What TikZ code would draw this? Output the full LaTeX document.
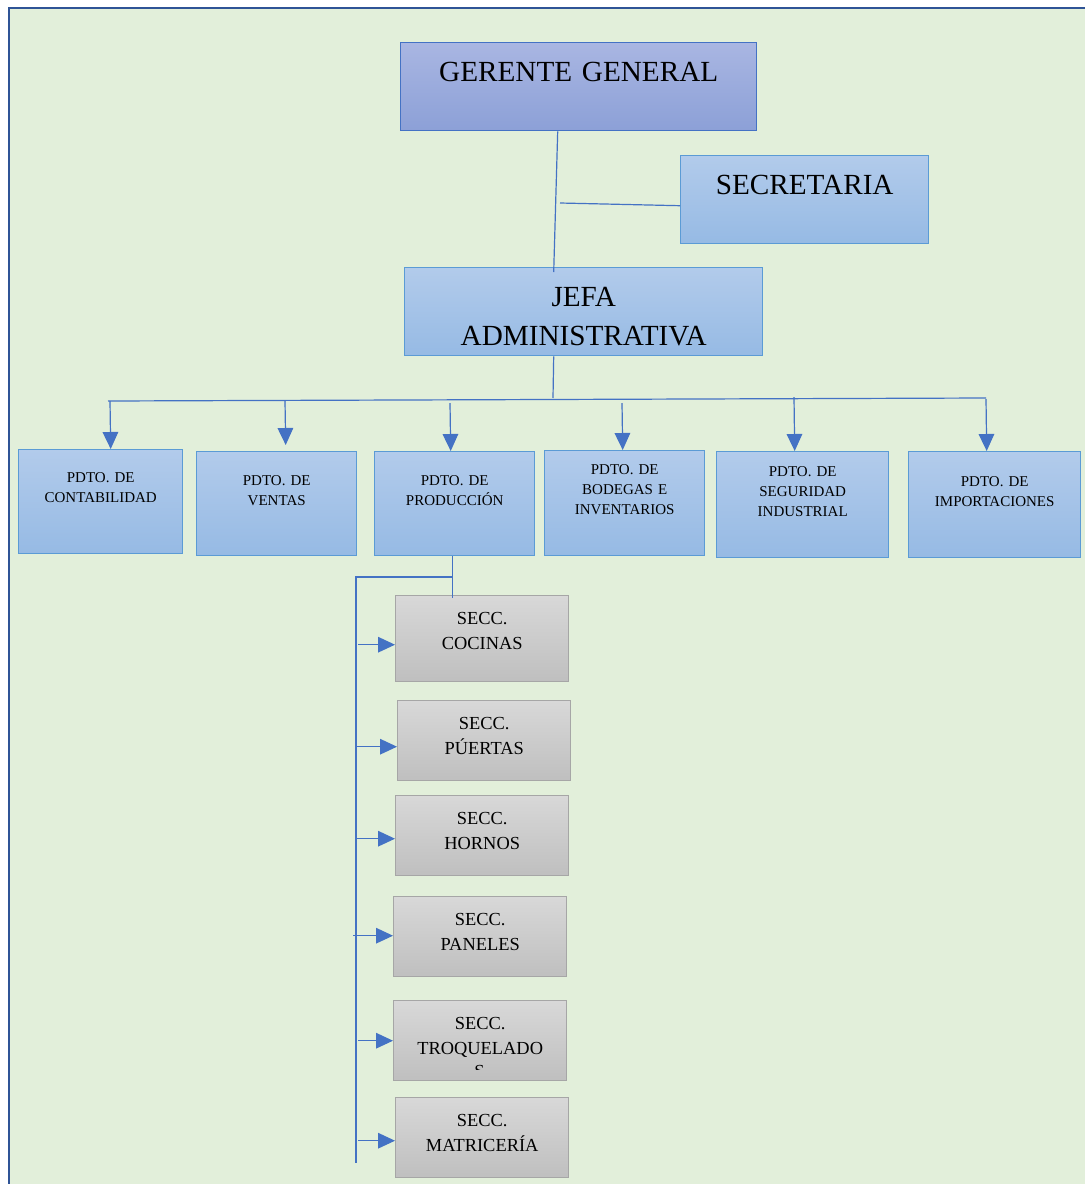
\documentclass[tikz,border=0pt]{standalone}
\usepackage{fontspec}
\setmainfont{Liberation Serif}
\usetikzlibrary{arrows.meta}

\definecolor{fondo}{RGB}{226,239,218}
\definecolor{marco}{RGB}{47,84,150}
\definecolor{linea}{RGB}{68,114,196}
\definecolor{gerTop}{RGB}{169,182,226}
\definecolor{gerBot}{RGB}{140,160,215}
\definecolor{azTop}{RGB}{178,203,235}
\definecolor{azBot}{RGB}{150,186,228}
\definecolor{azBorde}{RGB}{91,155,213}
\definecolor{grisTop}{RGB}{216,216,216}
\definecolor{grisBot}{RGB}{191,191,191}
\definecolor{grisBorde}{RGB}{166,166,166}

\tikzset{
  caja/.style={line width=0.7pt, inner xsep=0pt, inner ysep=0pt, align=center, anchor=north west},
  grande/.style={caja, font=\fontsize{14.6}{19.5}\selectfont, text height=19.4pt, text depth=24.6pt},
  dpto/.style={caja, draw=azBorde, top color=azTop, bottom color=azBot, font=\fontsize{7.5}{10}\selectfont},
  secc/.style={caja, draw=grisBorde, top color=grisTop, bottom color=grisBot, text width=86.5pt,
    font=\fontsize{9.2}{12.5}\selectfont, text height=14.2pt, text depth=25.8pt},
  conn/.style={draw=linea, line width=0.6pt},
  arr/.style={conn, -{Triangle[length=8.5pt,width=7.8pt]}, fill=linea},
}

\begin{document}
\begin{tikzpicture}[x=0.5pt, y=-0.5pt]
  \useasboundingbox (0,0) rectangle (1085,1184);
  % fondo
  \fill[fondo] (9,9) rectangle (1085,1184);
  \draw[marco, line width=1.2pt] (9,1184) -- (9,8) -- (1085,8);

  % direccion
  \node[grande, draw=linea, top color=gerTop, bottom color=gerBot, text width=178pt] (gerente) at (400,42) {GERENTE GENERAL};
  \node[grande, draw=azBorde, top color=azTop, bottom color=azBot, text width=124pt] (secretaria) at (680,155) {SECRETARIA};
  \node[grande, draw=azBorde, top color=azTop, bottom color=azBot, text width=179pt] (jefa) at (404,267) {JEFA\\ADMINISTRATIVA};
  \coordinate (tapSec) at (560,203);
  \coordinate (busMid) at (553,398);
  \draw[conn] ([xshift=-10.5pt]gerente.south) -- ([xshift=-15pt,yshift=-2.5pt]jefa.north);
  \draw[conn] (tapSec) -- ([yshift=-3pt]secretaria.west);
  \draw[conn] ([xshift=-15pt]jefa.south) -- (busMid);

  % departamentos
  \node[dpto, text width=82pt, text height=16.6pt, text depth=35.4pt] (cont) at (18,449) {PDTO. DE\\CONTABILIDAD};
  \node[dpto, text width=80pt, text height=17pt, text depth=35pt] (ventas) at (196,451) {PDTO. DE\\VENTAS};
  \node[dpto, text width=80pt, text height=17pt, text depth=35pt] (prod) at (374,451) {PDTO. DE\\PRODUCCIÓN};
  \node[dpto, text width=80pt, text height=12pt, text depth=40.5pt] (bodegas) at (544,450) {PDTO. DE\\BODEGAS E\\INVENTARIOS};
  \node[dpto, text width=86pt, text height=12.5pt, text depth=40.5pt] (seguridad) at (716,451) {PDTO. DE\\SEGURIDAD\\INDUSTRIAL};
  \node[dpto, text width=86pt, text height=17.5pt, text depth=35.5pt] (import) at (908,451) {PDTO. DE\\IMPORTACIONES};

  \coordinate (busL) at (108,401);
  \coordinate (busR) at (986,398);
  \coordinate (bCont) at (110,401);
  \coordinate (bVentas) at (285,401);
  \coordinate (bProd) at (450,403);
  \coordinate (bBodegas) at (622,403);
  \coordinate (bSeguridad) at (794,397);
  \coordinate (bImport) at (986,399);
  \draw[conn] (busL) -- (busR);
  \path
  (bCont) edge[arr] ([xshift=5pt]cont.north)
  (bVentas) edge[arr] ([xshift=4.5pt,yshift=3pt]ventas.north)
  (bProd) edge[arr] ([xshift=-2pt]prod.north)
  (bBodegas) edge[arr] ([xshift=-1pt]bodegas.north)
  (bSeguridad) edge[arr] ([xshift=-4pt]seguridad.north)
  (bImport) edge[arr] ([xshift=-4pt]import.north);

  % secciones de produccion
  \node[secc, text depth=28.8pt] (cocinas) at (395,595) {SECC.\\COCINAS};
  \node[secc] (puertas) at (397,700) {SECC.\\PÚERTAS};
  \node[secc] (hornos) at (395,795) {SECC.\\HORNOS};
  \node[secc] (paneles) at (393,896) {SECC.\\PANELES};
  \node[secc] (troq) at (393,1000) {SECC.\\TROQUELADO};
  \begin{scope}
    \clip (393,1000) rectangle (567,1069.5);
    \node[font=\fontsize{9.2}{12.5}\selectfont, inner sep=0pt, anchor=base] (troqS) at (479.5,1077.7) {S};
  \end{scope}
  \node[secc] (matric) at (395,1097) {SECC.\\MATRICERÍA};

  \coordinate (codo) at (452,577);
  \coordinate (espTop) at (356,577);
  \coordinate (espBot) at (356,1163);
  \draw[conn] ([xshift=-1pt]prod.south) -- ++(0,-21pt);
  \draw[conn] (codo) -- (espTop) -- (espBot);
  \path
  ([xshift=-18.5pt,yshift=-3pt]cocinas.west) edge[arr] ([yshift=-3pt]cocinas.west)
  ([xshift=-20.5pt,yshift=-3pt]puertas.west) edge[arr] ([yshift=-3pt]puertas.west)
  ([xshift=-19.5pt,yshift=-1.5pt]hornos.west) edge[arr] ([yshift=-1.5pt]hornos.west)
  ([xshift=-20pt,yshift=0.5pt]paneles.west) edge[arr] ([yshift=0.5pt]paneles.west)
  ([xshift=-17.5pt]troq.west) edge[arr] (troq.west)
  ([xshift=-18.5pt,yshift=-1.5pt]matric.west) edge[arr] ([yshift=-1.5pt]matric.west);
\end{tikzpicture}
\end{document}
